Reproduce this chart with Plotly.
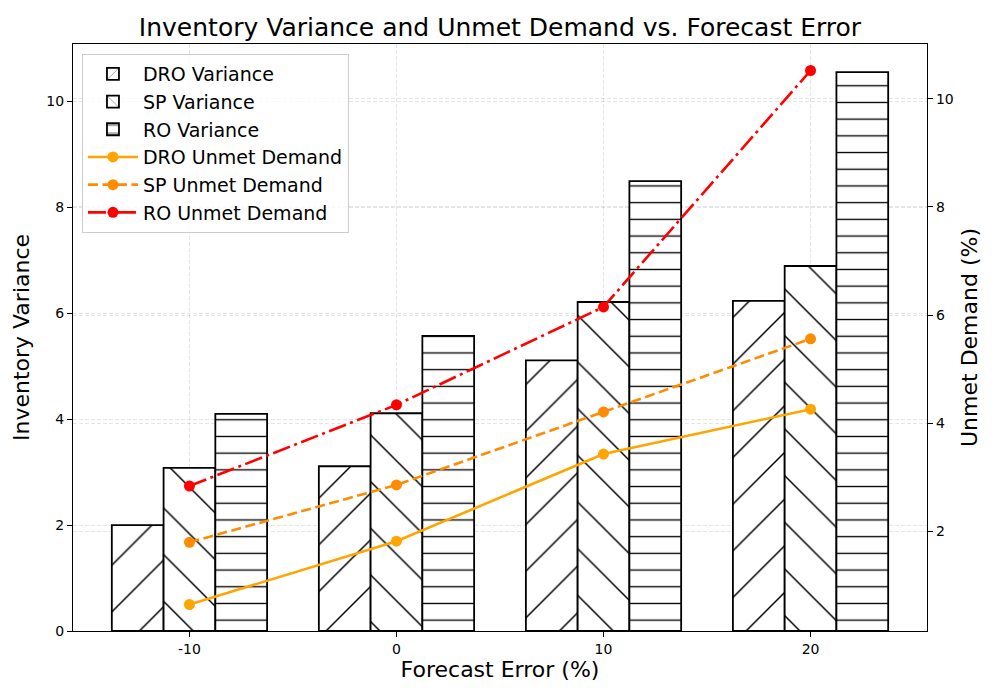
import plotly.graph_objects as go

forecast_error = [-10, 0, 10, 20]
forecast_labels = ["-10", "0", "10", "20"]
dro_variance = [2.00, 3.11, 5.11, 6.23]
sp_variance = [3.08, 4.11, 6.21, 6.89]
ro_variance = [4.10, 5.57, 8.49, 10.55]
dro_unmet = [0.65, 1.82, 3.43, 4.26]
sp_unmet = [1.80, 2.86, 4.21, 5.56]
ro_unmet = [2.84, 4.34, 6.15, 10.52]

FONT = "DejaVu Sans"

fig = go.Figure()

def bar(name, y, shape, size, solidity):
    return go.Bar(
        x=forecast_error, y=y, name=name,
        marker=dict(color="white",
                    line=dict(color="black", width=1.8),
                    pattern=dict(shape=shape, fgcolor="black", bgcolor="white",
                                 size=size, solidity=solidity, fillmode="replace")),
        yaxis="y",
    )

fig.add_trace(bar("DRO Variance", dro_variance, "/", 33, 0.045))
fig.add_trace(bar("SP Variance", sp_variance, "\\", 33, 0.045))
fig.add_trace(bar("RO Variance", ro_variance, "-", 16.7, 0.08))

def line(name, y, color, dash):
    return go.Scatter(
        x=forecast_error, y=y, name=name, mode="lines+markers",
        line=dict(color=color, width=2.6, dash=dash),
        marker=dict(color=color, size=11, symbol="circle"),
        yaxis="y2",
    )

fig.add_trace(line("DRO Unmet Demand", dro_unmet, "#FFA500", "solid"))
fig.add_trace(line("SP Unmet Demand", sp_unmet, "#FF8C00", "10px,4.5px"))
fig.add_trace(line("RO Unmet Demand", ro_unmet, "#FF0000", "18px,4.5px,3px,4.5px"))

grid = "rgba(0,0,0,0.10)"
gdash = "4px,2px"
fig.update_layout(
    width=1000, height=700,
    margin=dict(l=73, r=73, t=44, b=69),
    paper_bgcolor="white", plot_bgcolor="white",
    font=dict(family=FONT, color="black", size=14),
    barmode="group", bargap=0.25, bargroupgap=0,
    title=dict(text="Inventory Variance and Unmet Demand vs. Forecast Error",
               x=0.5, xanchor="center", y=1 - 27 / 700, yanchor="middle",
               font=dict(size=25, family=FONT)),
    xaxis=dict(
        title=dict(text="Forecast Error (%)", font=dict(size=22), standoff=5),
        range=[-15.625, 25.625], tickvals=forecast_error, ticktext=forecast_labels,
        ticks="outside", ticklen=5, tickwidth=1, tickcolor="black",
        showline=True, linecolor="black", linewidth=1.2, mirror=True,
        showgrid=True, gridcolor=grid, griddash=gdash, gridwidth=1,
        zeroline=False, tickfont=dict(size=14),
    ),
    yaxis=dict(
        title=dict(text="Inventory Variance", font=dict(size=22), standoff=10),
        range=[0, 11.08], dtick=2, tick0=0,
        ticks="outside", ticklen=5, tickwidth=1, tickcolor="black",
        showline=True, linecolor="black", linewidth=1.2,
        showgrid=True, gridcolor=grid, griddash=gdash, gridwidth=1,
        zeroline=False, tickfont=dict(size=14),
    ),
    yaxis2=dict(
        title=dict(text="Unmet Demand (%)", font=dict(size=22), standoff=8),
        range=[0.16, 11.01], dtick=2, tick0=0,
        overlaying="y", side="right",
        ticks="outside", ticklen=5, tickwidth=1, tickcolor="black",
        showline=True, linecolor="black", linewidth=1.2,
        showgrid=True, gridcolor=grid, griddash=gdash, gridwidth=1,
        zeroline=False, tickfont=dict(size=14),
    ),
    legend=dict(
        x=0.0105, y=0.983, xanchor="left", yanchor="top",
        bgcolor="rgba(255,255,255,0.8)", bordercolor="#cccccc", borderwidth=1,
        font=dict(size=19, family=FONT), traceorder="normal", itemwidth=50,
    ),
    showlegend=True,
)

fig.write_html("out.html", config={"displayModeBar": False},
               post_script="document.body.style.margin='0';")
